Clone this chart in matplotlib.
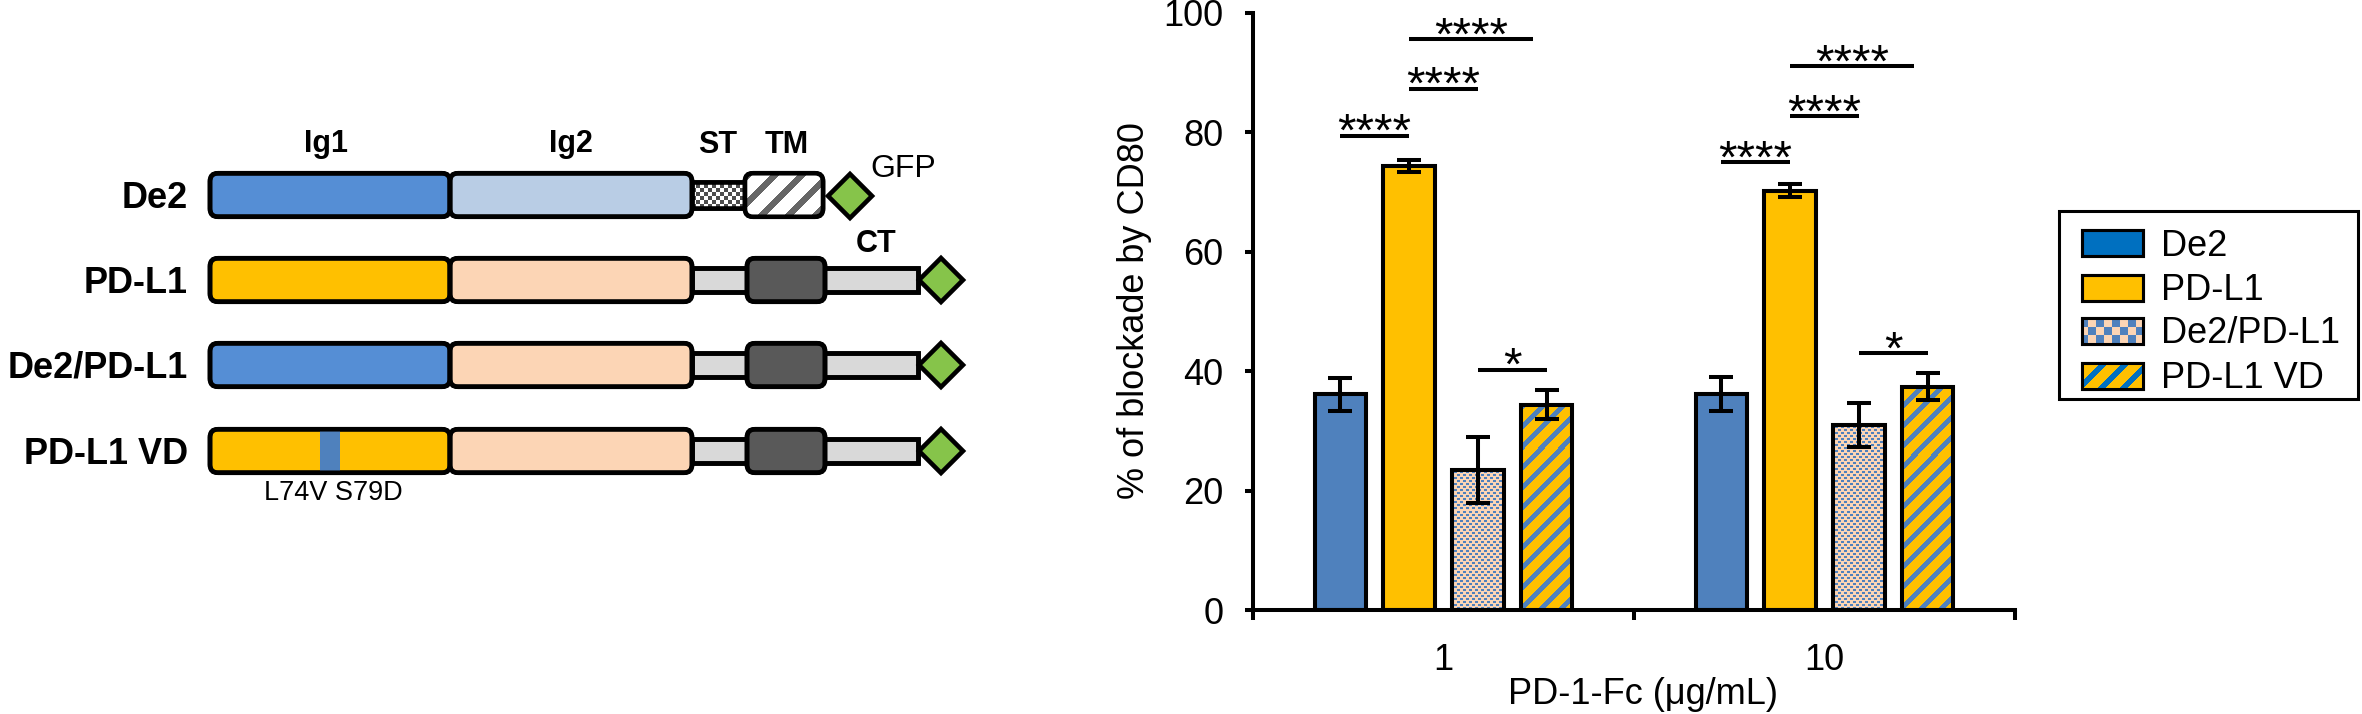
import numpy as np
import matplotlib as mpl
import matplotlib.pyplot as plt
from matplotlib.patches import FancyBboxPatch, Rectangle, Polygon

plt.rcParams['font.family'] = ['Liberation Sans', 'DejaVu Sans']

# bar chart values
doses = ['1', '10']
constructs = ['De2', 'PD-L1', 'De2/PD-L1', 'PD-L1 VD']
blockade_1ug = [36.1, 74.4, 23.5, 34.4]
sem_1ug = [2.7, 1.05, 5.55, 2.45]
blockade_10ug = [36.1, 70.2, 31.0, 37.4]
sem_10ug = [2.85, 1.1, 3.7, 2.3]

# significance brackets: dose group, bar from, bar to, height, stars
sig_dose = [0, 0, 0, 0, 1, 1, 1, 1]
sig_from = [0, 1, 1, 2, 0, 1, 1, 2]
sig_to = [1, 2, 2.8, 3, 1, 2, 2.8, 3]
sig_height = [79.4, 87.3, 95.6, 40.2, 75.0, 82.7, 91.1, 43.0]
sig_label = ['****', '****', '****', '*', '****', '****', '****', '*']

# domain diagram
rows = ['De2', 'PD-L1', 'De2/PD-L1', 'PD-L1 VD']
domain_names = ['Ig1', 'Ig2', 'ST', 'TM', 'CT']

W, H = 2362, 714
fig = plt.figure(figsize=(W / 100, H / 100), dpi=100)

# whole-figure canvas in pixel units for the schematic and the legend
canvas = fig.add_axes([0, 0, 1, 1])
canvas.axis('off')

yy, xx = np.mgrid[0:H, 0:W]


def two_tone(mask, c_on, c_off):
    on = np.array(mpl.colors.to_rgb(c_on))
    off = np.array(mpl.colors.to_rgb(c_off))
    return np.where(mask[..., None], on, off)


def clip_img(ax, img, extent, patch, z):
    im = ax.imshow(img, extent=extent, origin='upper', interpolation='nearest',
                   aspect='auto', zorder=z)
    im.set_clip_path(patch)


lw_box = 3.3


def rbox(x0, x1, yc, h, fc, z=3, rounded=True):
    style = 'round,pad=0,rounding_size=8' if rounded else 'square,pad=0'
    fill = FancyBboxPatch((x0, yc - h / 2), x1 - x0, h, boxstyle=style,
                          fc=fc, ec='black', lw=lw_box, zorder=z)
    canvas.add_patch(fill)
    edge = FancyBboxPatch((x0, yc - h / 2), x1 - x0, h, boxstyle=style,
                          fc='none', ec='black', lw=lw_box, zorder=z + 0.5)
    canvas.add_patch(edge)
    return fill


def diamond(xc, yc, r=22):
    canvas.add_patch(Polygon([(xc - r, yc), (xc, yc - r), (xc + r, yc), (xc, yc + r)],
                             closed=True, fc='#86C44A', ec='black', lw=lw_box, zorder=5))


row_y = [195, 280, 365, 451]
blue_ig1, lblue_ig2 = '#558ED5', '#B9CDE5'
yellow, peach = '#FFC000', '#FCD5B5'
ig1_colours = [blue_ig1, yellow, blue_ig1, yellow]
ig2_colours = [lblue_ig2, peach, peach, peach]

st_img = two_tone(((xx // 4) + (yy // 4)) % 2 == 0, '#4D4D4D', 'white')
tm_img = two_tone(((xx + yy) % 27) < 9, '#666666', 'white')
full = (0, W, H, 0)

for i, (name, yc) in enumerate(zip(rows, row_y)):
    canvas.text(188, yc + 13, name, ha='right', va='baseline', fontsize=26,
                fontweight='bold')
    ig1 = rbox(210, 450, yc, 43.5, ig1_colours[i])
    rbox(450, 692, yc, 43.5, ig2_colours[i])
    if i == 0:
        st = rbox(692, 745, yc, 26, 'white', z=2, rounded=False)
        clip_img(canvas, st_img, full, st, 2.2)
        tm = rbox(745, 823, yc, 43.5, 'white', z=3)
        clip_img(canvas, tm_img, full, tm, 3.2)
        diamond(850, yc + 1)
    else:
        rbox(692, 918, yc, 24, '#D9D9D9', z=2, rounded=False)
        rbox(747, 825, yc, 43.5, '#595959', z=3)
        diamond(941, yc)
    if name == 'PD-L1 VD':
        stripe = Rectangle((320, yc - 25), 20, 50, fc='#4F81BD', ec='none', zorder=3.2)
        canvas.add_patch(stripe)
        stripe.set_clip_path(ig1)

label_x = [326, 571, 718, 787, 876]
label_y = [152, 152, 153, 153, 252]
for name, lx, ly in zip(domain_names, label_x, label_y):
    canvas.text(lx, ly, name, ha='center', va='baseline', fontsize=22, fontweight='bold')
canvas.text(870, 177, 'GFP', ha='left', va='baseline', fontsize=23)
canvas.text(333, 500, 'L74V S79D', ha='center', va='baseline', fontsize=19.5)

# legend (drawn by hand so the fill patterns show)
canvas.add_patch(Rectangle((2059, 211), 299, 188, fill=False, ec='black', lw=2.2, zorder=2))
leg_rows = [243, 287.5, 330.5, 375.5]
leg_fill = ['#0070C0', yellow, peach, yellow]
leg_chk = two_tone(((xx // 8) + (yy // 8)) % 2 == 0, '#4F81BD', peach)
leg_str = two_tone(((xx + yy) % 22) < 8, '#0070C0', yellow)
for k, (name, ly) in enumerate(zip(constructs, leg_rows)):
    p = Rectangle((2081.5, ly - 13), 61, 26, fc=leg_fill[k], ec='black', lw=2.2, zorder=3)
    canvas.add_patch(p)
    if k == 2:
        clip_img(canvas, leg_chk, full, p, 3.2)
    if k == 3:
        clip_img(canvas, leg_str, full, p, 3.2)
    canvas.add_patch(Rectangle((2081.5, ly - 13), 61, 26, fc='none', ec='black', lw=2.2, zorder=3.5))
    canvas.text(2161, ly + 12.5, name, ha='left', va='baseline', fontsize=26)

canvas.set_xlim(0, W)
canvas.set_ylim(H, 0)

# bar chart
ax = fig.add_axes([1253 / W, (H - 610) / H, 762 / W, 597 / H])
ry, rx = np.mgrid[0:597, 0:762]
chk = ((rx // 3 + ry // 3) % 2 == 0) & (ry % 3 < 2)
checker_img = two_tone(chk, '#4F81BD', peach)
stripe_img = two_tone(((rx + ry) % 20) < 7, '#4F81BD', yellow)

bar_w = 0.134
pitch = 0.181
values = [blockade_1ug, blockade_10ug]
errs = [sem_1ug, sem_10ug]
fills = ['#4F81BD', yellow, peach, yellow]
centres = []
for g in range(len(doses)):
    xs = g + 0.5 + (np.arange(len(constructs)) - 1.5) * pitch
    centres.append(xs)
    bars = ax.bar(xs, values[g], bar_w, color=fills, edgecolor='black', linewidth=2.9, zorder=2)
    for patch, img in zip(bars.patches[2:], [checker_img, stripe_img]):
        clip_img(ax, img, (0, 2, 0, 100), patch, 2.5)
    ax.bar(xs, values[g], bar_w, color='none', edgecolor='black', linewidth=2.9, zorder=3)
    ax.errorbar(xs, values[g], yerr=errs[g], fmt='none', ecolor='black',
                elinewidth=2.9, capsize=8.6, capthick=2.9, zorder=5)

for g, a, b, h, lab in zip(sig_dose, sig_from, sig_to, sig_height, sig_label):
    x0 = centres[g][a]
    x1 = centres[g][0] + b * pitch
    ax.plot([x0, x1], [h, h], color='black', lw=2.9, solid_capstyle='butt', zorder=6)
    ax.text((x0 + x1) / 2, h - 1.7, lab, ha='center', va='baseline', fontsize=34, zorder=6)

ax.set_xlim(0, 2)
ax.set_ylim(0, 100)
ax.set_yticks(range(0, 101, 20))
ax.set_xticks([0, 1, 2])
ax.set_xticklabels([])
ax.set_xticks([0.5, 1.5], minor=True)
ax.set_xticklabels(doses, minor=True)
for s in ['top', 'right']:
    ax.spines[s].set_visible(False)
for s in ['left', 'bottom']:
    ax.spines[s].set_linewidth(2.9)
ax.tick_params(axis='x', which='major', direction='out', length=7.5, width=2.9)
ax.tick_params(axis='x', which='minor', length=0, pad=24, labelsize=26)
ax.tick_params(axis='y', direction='out', length=5.8, width=2.9, pad=15.5, labelsize=26)
ax.set_facecolor('none')

fig.text(1643 / W, (H - 704) / H, 'PD-1-Fc (μg/mL)', ha='center', va='baseline', fontsize=26)
fig.text(1134 / W, (H - 311) / H, '% of blockade by CD80', rotation=90,
         ha='center', va='center', fontsize=26)

fig.savefig('out.png', dpi=100)
